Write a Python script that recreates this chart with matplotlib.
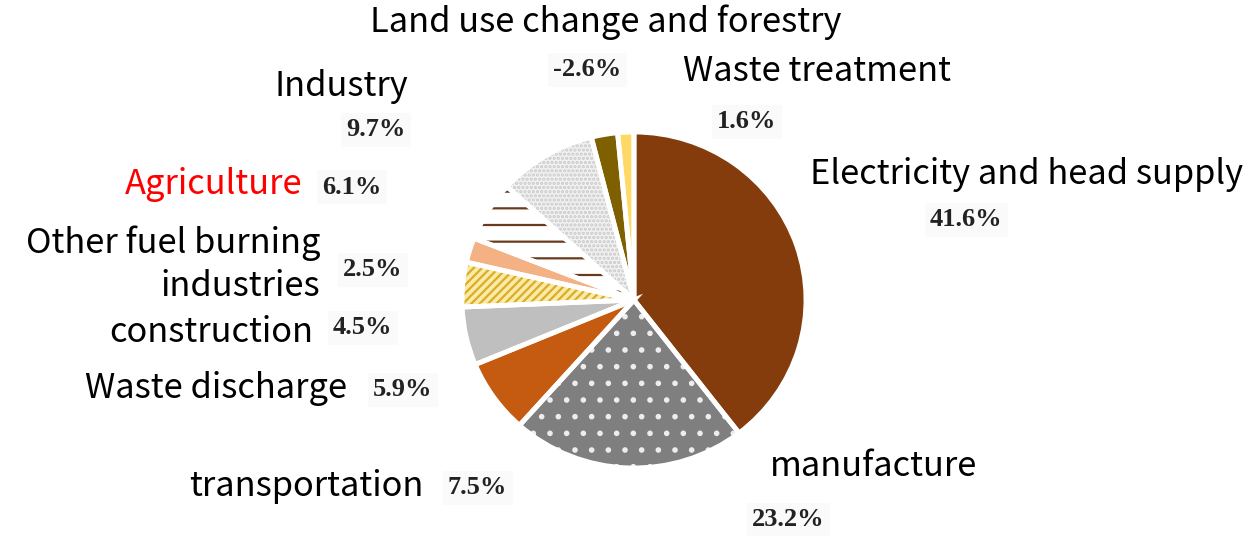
import numpy as np
import matplotlib.pyplot as plt

W, H = 1258, 536

# emission shares, clockwise from 12 o'clock
sectors = ['Electricity and head supply', 'manufacture', 'transportation',
           'Waste discharge', 'construction', 'Other fuel burning\nindustries',
           'Agriculture', 'Industry', 'Land use change and forestry',
           'Waste treatment']
shares = [41.6, 23.2, 7.5, 5.9, 4.5, 2.5, 6.1, 9.7, -2.6, 1.6]

faces = ['#843C0C', '#7F7F7F', '#C55A11', '#BFBFBF', '#FBE9A8', '#F4B183',
         '#FFFFFF', '#F2F2F2', '#7F6000', '#FFD966']
hatches = [None, '.', None, None, '////', None, '-', '....', None, None]
hatch_cols = ['#843C0C', '#EDEDED', '#C55A11', '#BFBFBF', '#D9AE25', '#F4B183',
              '#6B3A1C', '#C9C9C9', '#7F6000', '#FFD966']

# label anchors in pixels: (x, y, ha) for name and for percentage
name_pos = [(810, 175, 'left'), (770, 467, 'left'), (424, 487, 'right'),
            (347, 388, 'right'), (313, 332, 'right'), (320, 265, 'right'),
            (302, 185, 'right'), (275, 86, 'left'), (606, 22, 'center'),
            (683, 72, 'left')]
pct_pos = [(930, 220), (752, 520), (448, 488), (373, 390), (333, 328),
           (343, 270), (322, 187), (346, 130), (553, 70), (717, 122)]
name_cols = ['black'] * 10
name_cols[6] = 'red'


def fx(x):
    return x / W


def fy(y):
    return 1 - y / H


plt.rcParams['hatch.linewidth'] = 1.6

fig = plt.figure(figsize=(W / 100, H / 100), dpi=100)

cx, cy, rx, ry = 634, 300, 172, 168
ax = fig.add_axes([fx(cx - rx), fy(cy + ry), 2 * rx / W, 2 * ry / H])
sizes = np.abs(shares)

wedges, _ = ax.pie(sizes, startangle=90, counterclock=False, colors=faces)
for w, h, hc in zip(wedges, hatches, hatch_cols):
    w.set_edgecolor(hc)
    w.set_linewidth(0)
    if h:
        w.set_hatch(h)

# white separators drawn on top so hatch colours stay intact
outline, _ = ax.pie(sizes, startangle=90, counterclock=False,
                    wedgeprops=dict(facecolor='none', edgecolor='white',
                                    linewidth=3.5))
ax.set_aspect('auto')
ax.set_xlim(-1, 1)
ax.set_ylim(-1, 1)

name_font = dict(family=['Noto Sans CJK SC', 'DejaVu Sans'], weight='light',
                 fontsize=24.8)
pct_font = dict(family='Liberation Serif', weight='bold', fontsize=19)

for name, (x, y, ha), col in zip(sectors, name_pos, name_cols):
    fig.text(fx(x), fy(y), name, ha=ha, va='center', color=col,
             linespacing=1.3, **name_font)

for v, (x, y) in zip(shares, pct_pos):
    fig.text(fx(x), fy(y), f'{v}%', ha='left', va='center', color='#222222',
             bbox=dict(boxstyle='square,pad=0.2', facecolor='#FAFAFA',
                       edgecolor='none'), **pct_font)

fig.savefig('out.png', dpi=100)
